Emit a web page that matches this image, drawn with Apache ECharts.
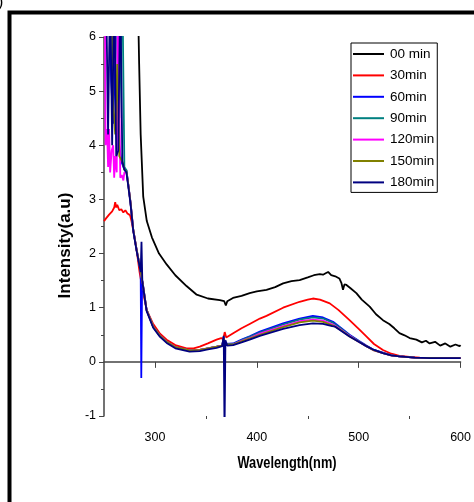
<!DOCTYPE html>
<html><head><meta charset="utf-8">
<script src="https://cdn.jsdelivr.net/npm/echarts@6/dist/echarts.min.js"></script>
<style>html,body{margin:0;padding:0;background:#fff}#c{width:474px;height:502px}</style>
</head><body><div id="c"></div>
<script>
const seriesNames = ['00 min','30min','60min','90min','120min','150min','180min'];
const xTickLabels = [300,400,500,600];
const xMinorTicks = [350,450,550];
const xTitle = 'Wavelength(nm)';
const yTitle = 'Intensity(a.u)';

const wl00 = [283,284.5,286,288.5,292,297,304,311.5,320,331,341,352,363.7,368,369.6,371,376.6,385,393,400,409.5,418,425.8,434,442,450,456,461.8,465,468,470,473,477,481,483,484.6,486,488,492,497.7,503,510.8,517,523.8,530,535,540,545,550,556.6,562,566,569.6,575,580,585,590,595,599,600];
const v00  = [7,5.5,4.2,3.05,2.6,2.3,2.0,1.8,1.6,1.4,1.24,1.17,1.14,1.12,1.04,1.12,1.18,1.22,1.27,1.30,1.33,1.38,1.45,1.49,1.51,1.56,1.60,1.62,1.61,1.64,1.66,1.60,1.58,1.54,1.46,1.33,1.43,1.42,1.36,1.27,1.15,1.02,0.88,0.77,0.70,0.62,0.53,0.49,0.44,0.41,0.36,0.39,0.34,0.37,0.30,0.34,0.28,0.32,0.29,0.31];

const wl30 = [250,252,255,258,260,261,262,263,265,267,269,271,273,275.5,277,279,282,285,288.5,292,298,305,311.5,320,331,338,344,352,360.5,365,367,368.5,370,376.8,385,393,403,409.5,425.8,442,450,455,462,471.6,480,491,500,507.5,515,523.8,532,540,550,560,580,600];
const v30  = [2.6,2.65,2.72,2.78,2.85,2.95,2.85,2.9,2.8,2.82,2.76,2.8,2.74,2.71,2.6,2.4,2.07,1.65,1.27,0.95,0.71,0.52,0.41,0.31,0.25,0.25,0.28,0.34,0.41,0.44,0.42,0.55,0.45,0.53,0.62,0.70,0.80,0.85,1.0,1.11,1.15,1.17,1.15,1.08,0.96,0.77,0.61,0.47,0.33,0.22,0.15,0.11,0.09,0.08,0.07,0.07];

const wl60 = [255,257,259,261,263,265,267,270,272,274,276,278.7,282,285,286,286.6,287.4,288,291.8,298.3,305,311.5,320,334,344,352,360.5,366,367.5,369,376.8,385,393,403,425.8,442,455,465,474.8,483,491,500,507.5,515,523.8,532,540,555,570,585,600];
const v60  = [7,5.2,4.4,5.6,7,4.0,3.7,3.55,3.54,3.25,2.95,2.44,2.07,1.78,1.68,-0.3,1.5,1.45,0.96,0.65,0.48,0.37,0.27,0.21,0.22,0.25,0.28,0.30,0.45,0.33,0.34,0.41,0.47,0.56,0.71,0.80,0.85,0.82,0.74,0.62,0.50,0.39,0.30,0.22,0.17,0.12,0.10,0.08,0.075,0.07,0.07];

const wl90 = [262,263.5,265,266.5,268,270,272,274,276,278.7,282,285,288,291.8,298.3,305,311.5,320,334,344,352,360.5,366,367.5,369,376.8,385,393,403,425.8,442,455,465,474.8,483,491,500,507.5,515,523.8,532,540,555,570,585,600];
const v90  = [7,5.0,4.5,5.8,7,3.6,3.54,3.25,2.95,2.44,2.07,1.78,1.45,0.96,0.65,0.48,0.37,0.27,0.21,0.22,0.25,0.28,0.30,0.44,0.33,0.33,0.40,0.46,0.54,0.69,0.78,0.82,0.80,0.72,0.61,0.49,0.38,0.29,0.22,0.16,0.12,0.10,0.08,0.075,0.07,0.07];

const wl120 = [250,251,251.5,253,254,255,256,257.5,259,260,261,262.5,263.5,264.5,266,267.5,269,270,272,274,276,278.7,282,285,288,291.8,298.3,305,311.5,320,334,344,352,360.5,366,367.5,369,376.8,385,393,403,425.8,442,455,465,474.8,483,491,500,507.5,515,523.8,532,540,555,570,585,600];
const v120  = [7,6.5,4.0,4.3,3.6,4.3,3.5,3.9,4.0,3.4,3.8,3.5,7,7,3.4,3.45,3.35,3.5,3.5,3.25,2.95,2.44,2.07,1.78,1.45,0.96,0.65,0.48,0.37,0.27,0.21,0.22,0.25,0.28,0.30,0.43,0.32,0.32,0.39,0.44,0.52,0.66,0.75,0.78,0.76,0.69,0.59,0.48,0.37,0.29,0.21,0.16,0.12,0.10,0.08,0.075,0.07,0.07];

const wl150 = [257,259,261,263,265,268,270,272,274,276,278.7,282,285,288,291.8,298.3,305,311.5,320,334,344,352,360.5,366,367.5,369,376.8,385,393,403,425.8,442,455,465,474.8,483,491,500,507.5,515,523.8,532,540,555,570,585,600];
const v150  = [7,4.8,4.2,5.5,3.8,3.7,3.55,3.52,3.25,2.95,2.44,2.07,1.78,1.45,0.96,0.65,0.48,0.37,0.27,0.21,0.22,0.25,0.28,0.30,0.43,0.32,0.32,0.38,0.43,0.50,0.64,0.73,0.76,0.74,0.67,0.58,0.47,0.37,0.29,0.21,0.16,0.12,0.10,0.08,0.075,0.07,0.07];

const wl180 = [252,254,256,258,260,262,264,266,268,270,272,274,276,278.7,282,285,286,286.8,287.6,288,291.8,298.3,305,311.5,320,334,344,352,360.5,366,367.5,368.3,369.2,371,376.8,385,393,403,425.8,442,455,465,474,477,478,483,491,500,507.5,515,523.8,532,540,555,570,585,600];
const v180  = [7,4.2,7,4.0,7,3.8,3.9,7,3.7,3.55,3.5,3.22,2.92,2.42,2.05,1.76,1.66,2.22,1.5,1.43,0.94,0.63,0.46,0.35,0.25,0.19,0.20,0.23,0.26,0.29,0.48,-1.3,0.40,0.30,0.31,0.36,0.41,0.48,0.61,0.68,0.71,0.70,0.66,0.65,0.62,0.57,0.47,0.37,0.29,0.22,0.16,0.12,0.10,0.08,0.07,0.07,0.07];

const colors = ['#000000','#ff0000','#0000ff','#008080','#ff00ff','#808000','#000080'];
const wls = [wl00,wl30,wl60,wl90,wl120,wl150,wl180];
const vals = [v00,v30,v60,v90,v120,v150,v180];

const sans = "'Liberation Sans',Arial,sans-serif";

const chart = echarts.init(document.getElementById('c'), null, {renderer:'canvas'});
chart.setOption({
  animation:false,
  backgroundColor:'#fff',
  graphic:[
    {type:'rect', shape:{x:9.5,y:12.5,width:600,height:600}, style:{fill:'none',stroke:'#000',lineWidth:4}, silent:true},
    {type:'text', left:-2, top:-5, style:{text:')', font:'16px '+sans, fill:'#000'}},
    {type:'text', x:287, y:456, scaleX:0.8, style:{text:xTitle, font:'bold 16px '+sans, fill:'#000', align:'center', verticalAlign:'top'}}
  ],
  grid:{left:104, right:13, top:37, bottom:86, containLabel:false},
  legend:{
    orient:'vertical', left:351, top:43,
    data:seriesNames,
    icon:'rect',
    itemWidth:31, itemHeight:2, itemGap:7.4,
    padding:[4,3,3,2],
    borderColor:'#000', borderWidth:1,
    textStyle:{fontFamily:sans, fontSize:13.5, color:'#000', lineHeight:14, padding:[0,0,0,1]}
  },
  xAxis:[{
    type:'value', min:250, max:600, interval:50,
    axisLine:{show:true, lineStyle:{color:'#444', width:1.5}},
    axisTick:{show:true, length:6, customValues:xTickLabels, lineStyle:{color:'#444'}},
    axisLabel:{customValues:xTickLabels, fontFamily:sans, fontSize:12.5, color:'#000', margin:15},
    splitLine:{show:false}
  },{
    type:'value', min:250, max:600, interval:50, position:'bottom',
    axisLine:{show:false},
    axisTick:{show:true, length:3, customValues:xMinorTicks, lineStyle:{color:'#444'}},
    axisLabel:{show:false}, splitLine:{show:false}
  }],
  yAxis:{
    type:'value', min:-1, max:6, interval:1,
    axisLine:{show:true, lineStyle:{color:'#444', width:1.5}},
    axisTick:{show:true, length:5, lineStyle:{color:'#444'}},
    minorTick:{show:true, splitNumber:2, length:3, lineStyle:{color:'#444'}},
    axisLabel:{fontFamily:sans, fontSize:12.5, color:'#000', margin:8},
    splitLine:{show:false},
    name:yTitle, nameLocation:'middle', nameGap:29,
    nameTextStyle:{fontFamily:sans, fontSize:17, fontWeight:'bold', color:'#000', padding:[0,38,0,0]}
  },
  series: seriesNames.map((n,i)=>({
    name:n, type:'line', xAxisIndex:0, symbol:'none', clip:true,
    data: wls[i].map((x,j)=>[x, vals[i][j]]),
    lineStyle:{color:colors[i], width:1.8},
    itemStyle:{color:colors[i]}
  }))
});
</script></body></html>
